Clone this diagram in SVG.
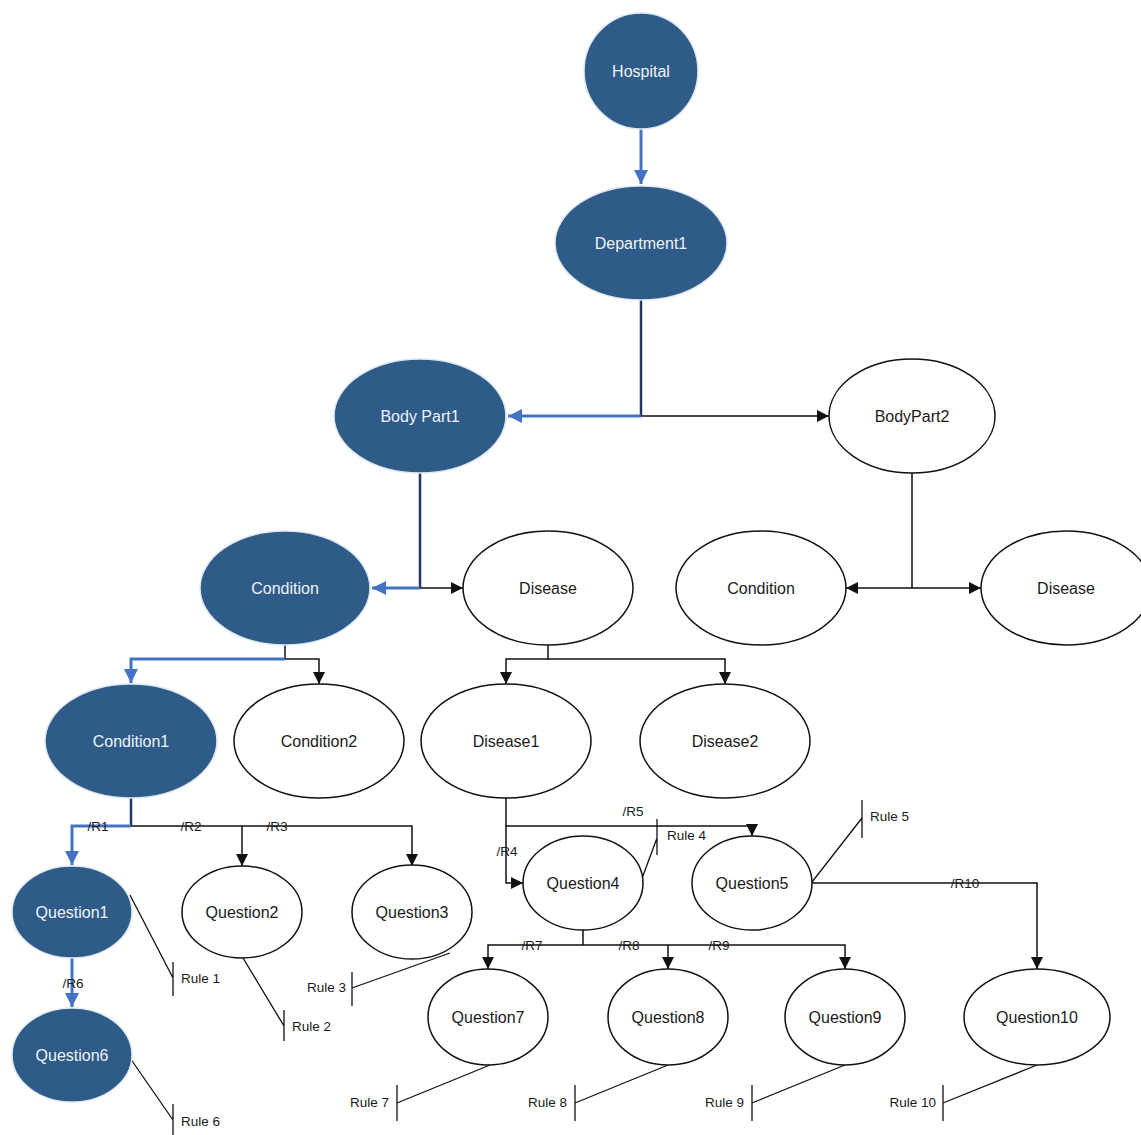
<svg xmlns="http://www.w3.org/2000/svg" width="1141" height="1135" viewBox="0 0 1141 1135">
  <style>
    .dark ellipse { fill: #2e5b87; stroke: #dfe8f2; stroke-width: 1.5; }
    .light ellipse { fill: #ffffff; stroke: #111111; stroke-width: 1.5; }
    .dark text { fill: #eef3f8; }
    .light text { fill: #1a1a1a; }
    text { font-family: "Liberation Sans", Arial, sans-serif; font-size: 16px; text-anchor: middle; }
    .edge { fill: none; stroke: #111111; stroke-width: 1.5; }
    .blue { fill: none; stroke: #4472c4; stroke-width: 3; }
    .navy { fill: none; stroke: #1f3864; stroke-width: 2.5; }
    .rule { fill: none; stroke: #111111; stroke-width: 1.3; }
    .lbl { font-size: 13.5px; fill: #1a1a1a; }
    .rl { font-size: 13.5px; fill: #1a1a1a; text-anchor: start; }
    .rr { font-size: 13.5px; fill: #1a1a1a; text-anchor: end; }
  </style>
  <defs>
    <marker id="ab" markerUnits="userSpaceOnUse" markerWidth="14" markerHeight="14" refX="12" refY="6" orient="auto">
      <path d="M0,0 L12,6 L0,12 z" fill="#111111"/>
    </marker>
    <marker id="ablue" markerUnits="userSpaceOnUse" markerWidth="16" markerHeight="16" refX="14" refY="7" orient="auto">
      <path d="M0,0 L14,7 L0,14 z" fill="#4472c4"/>
    </marker>
  </defs>
  <rect width="1141" height="1135" fill="#ffffff"/>

  <!-- connectors -->
  <g id="connectors">
    <path class="blue" d="M641,128 L641,184" marker-end="url(#ablue)"/>
    <path class="navy" d="M641,300 L641,416"/>
    <path class="blue" d="M641,416 L508,416" marker-end="url(#ablue)"/>
    <path class="edge" d="M641,416 L829,416" marker-end="url(#ab)"/>

    <path class="navy" d="M420,473 L420,588"/>
    <path class="blue" d="M420,588 L372,588" marker-end="url(#ablue)"/>
    <path class="edge" d="M420,588 L463,588" marker-end="url(#ab)"/>

    <path class="edge" d="M912,473 L912,588"/>
    <path class="edge" d="M912,588 L846,588" marker-end="url(#ab)"/>
    <path class="edge" d="M912,588 L981,588" marker-end="url(#ab)"/>

    <path class="edge" d="M285,645 L285,659"/>
    <path class="blue" d="M285,659 L131,659 L131,683" marker-end="url(#ablue)"/>
    <path class="edge" d="M285,659 L319,659 L319,684" marker-end="url(#ab)"/>

    <path class="edge" d="M548,645 L548,659 L506,659 L506,684" marker-end="url(#ab)"/>
    <path class="edge" d="M548,659 L725,659 L725,684" marker-end="url(#ab)"/>

    <path class="navy" d="M131,798 L131,826"/>
    <path class="blue" d="M131,826 L72,826 L72,865" marker-end="url(#ablue)"/>
    <path class="edge" d="M131,826 L412,826 L412,866" marker-end="url(#ab)"/>
    <path class="edge" d="M242,826 L242,866" marker-end="url(#ab)"/>
    <text class="lbl" x="98" y="831">/R1</text>
    <text class="lbl" x="191" y="831">/R2</text>
    <text class="lbl" x="277" y="831">/R3</text>

    <path class="blue" d="M72,957 L72,1007" marker-end="url(#ablue)"/>
    <text class="lbl" x="73" y="988">/R6</text>

    <path class="edge" d="M506,798 L506,826 L752,826 L752,836" marker-end="url(#ab)"/>
    <path class="edge" d="M506,826 L506,883 L523,883" marker-end="url(#ab)"/>
    <text class="lbl" x="633" y="816">/R5</text>
    <text class="lbl" x="507" y="856">/R4</text>

    <path class="edge" d="M583,930 L583,945"/>
    <path class="edge" d="M583,945 L488,945 L488,969" marker-end="url(#ab)"/>
    <path class="edge" d="M583,945 L845,945 L845,969" marker-end="url(#ab)"/>
    <path class="edge" d="M668,945 L668,969" marker-end="url(#ab)"/>
    <text class="lbl" x="532" y="950">/R7</text>
    <text class="lbl" x="629" y="950">/R8</text>
    <text class="lbl" x="719" y="950">/R9</text>

    <path class="edge" d="M812,883 L1037,883 L1037,969" marker-end="url(#ab)"/>
    <text class="lbl" x="965" y="888">/R10</text>

    <!-- rule attachments -->
    <path class="rule" d="M130,895 L173,978 M173,962 L173,996"/>
    <text class="rl" x="181" y="983">Rule 1</text>
    <path class="rule" d="M243,958 L284,1026 M284,1010 L284,1041"/>
    <text class="rl" x="292" y="1031">Rule 2</text>
    <path class="rule" d="M450,953 L352,988 M352,972 L352,1006"/>
    <text class="rr" x="346" y="992">Rule 3</text>
    <path class="rule" d="M641,881 L657,838 M657,819 L657,855"/>
    <text class="rl" x="667" y="840">Rule 4</text>
    <path class="rule" d="M812,882 L862,818 M862,800 L862,838"/>
    <text class="rl" x="870" y="821">Rule 5</text>
    <path class="rule" d="M130,1058 L173,1120 M173,1104 L173,1135"/>
    <text class="rl" x="181" y="1126">Rule 6</text>
    <path class="rule" d="M490,1065 L397,1103 M397,1085 L397,1121"/>
    <text class="rr" x="389" y="1107">Rule 7</text>
    <path class="rule" d="M668,1065 L575,1103 M575,1085 L575,1121"/>
    <text class="rr" x="567" y="1107">Rule 8</text>
    <path class="rule" d="M845,1065 L752,1103 M752,1085 L752,1121"/>
    <text class="rr" x="744" y="1107">Rule 9</text>
    <path class="rule" d="M1037,1065 L943,1103 M943,1085 L943,1121"/>
    <text class="rr" x="936" y="1107">Rule 10</text>
  </g>

  <!-- nodes -->
  <g id="hospital" class="dark"><ellipse cx="641" cy="71" rx="57" ry="58"/><text x="641" y="77">Hospital</text></g>
  <g id="department1" class="dark"><ellipse cx="641" cy="243" rx="86" ry="57"/><text x="641" y="249">Department1</text></g>
  <g id="bodypart1" class="dark"><ellipse cx="420" cy="416" rx="86" ry="57"/><text x="420" y="422">Body Part1</text></g>
  <g id="bodypart2" class="light"><ellipse cx="912" cy="416" rx="83" ry="57"/><text x="912" y="422">BodyPart2</text></g>
  <g id="condition-a" class="dark"><ellipse cx="285" cy="588" rx="85" ry="57"/><text x="285" y="594">Condition</text></g>
  <g id="disease-a" class="light"><ellipse cx="548" cy="588" rx="85" ry="57"/><text x="548" y="594">Disease</text></g>
  <g id="condition-b" class="light"><ellipse cx="761" cy="588" rx="85" ry="57"/><text x="761" y="594">Condition</text></g>
  <g id="disease-b" class="light"><ellipse cx="1066" cy="588" rx="85" ry="57"/><text x="1066" y="594">Disease</text></g>
  <g id="condition1" class="dark"><ellipse cx="131" cy="741" rx="86" ry="57"/><text x="131" y="747">Condition1</text></g>
  <g id="condition2" class="light"><ellipse cx="319" cy="741" rx="85" ry="57"/><text x="319" y="747">Condition2</text></g>
  <g id="disease1" class="light"><ellipse cx="506" cy="741" rx="85" ry="57"/><text x="506" y="747">Disease1</text></g>
  <g id="disease2" class="light"><ellipse cx="725" cy="741" rx="85" ry="57"/><text x="725" y="747">Disease2</text></g>
  <g id="question1" class="dark"><ellipse cx="72" cy="912" rx="60" ry="46"/><text x="72" y="918">Question1</text></g>
  <g id="question2" class="light"><ellipse cx="242" cy="912" rx="60" ry="46"/><text x="242" y="918">Question2</text></g>
  <g id="question3" class="light"><ellipse cx="412" cy="912" rx="60" ry="47"/><text x="412" y="918">Question3</text></g>
  <g id="question4" class="light"><ellipse cx="583" cy="883" rx="60" ry="47"/><text x="583" y="889">Question4</text></g>
  <g id="question5" class="light"><ellipse cx="752" cy="883" rx="60" ry="47"/><text x="752" y="889">Question5</text></g>
  <g id="question6" class="dark"><ellipse cx="72" cy="1055" rx="60" ry="47"/><text x="72" y="1061">Question6</text></g>
  <g id="question7" class="light"><ellipse cx="488" cy="1017" rx="60" ry="48"/><text x="488" y="1023">Question7</text></g>
  <g id="question8" class="light"><ellipse cx="668" cy="1017" rx="60" ry="48"/><text x="668" y="1023">Question8</text></g>
  <g id="question9" class="light"><ellipse cx="845" cy="1017" rx="60" ry="48"/><text x="845" y="1023">Question9</text></g>
  <g id="question10" class="light"><ellipse cx="1037" cy="1017" rx="73" ry="48"/><text x="1037" y="1023">Question10</text></g>
</svg>
